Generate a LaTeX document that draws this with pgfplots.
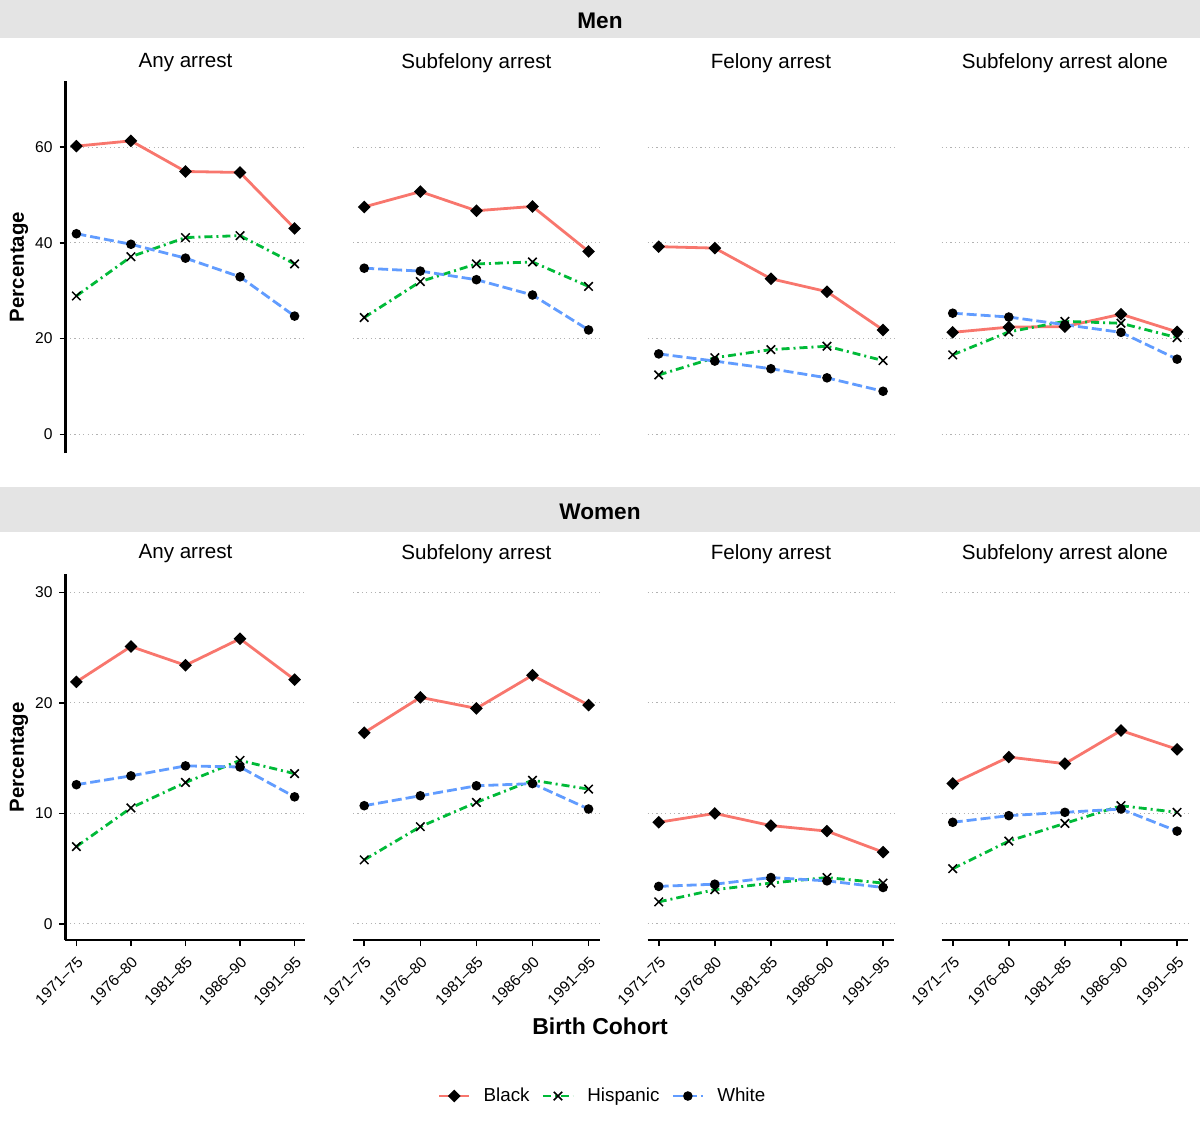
\documentclass[border=0pt]{standalone}
\usepackage{fontspec}
\setmainfont{Liberation Sans}
\usepackage{pgfplots}
\usepackage{pgfplotstable}
\pgfplotsset{compat=1.18}

\definecolor{cB}{HTML}{F8766D}
\definecolor{cH}{HTML}{00BA38}
\definecolor{cW}{HTML}{619CFF}
\definecolor{stripgray}{HTML}{E4E4E4}

% men
\pgfplotstableread{
x B H W
1 60.2 28.9 41.9
2 61.3 37.1 39.7
3 54.9 41.1 36.8
4 54.7 41.5 32.9
5 43.0 35.6 24.7
}\menAny
\pgfplotstableread{
x B H W
1 47.5 24.4 34.7
2 50.7 31.9 34.1
3 46.7 35.6 32.3
4 47.6 36.0 29.1
5 38.2 30.9 21.8
}\menSub
\pgfplotstableread{
x B H W
1 39.2 12.4 16.8
2 38.9 16.0 15.3
3 32.5 17.7 13.7
4 29.8 18.4 11.8
5 21.8 15.4 9.0
}\menFel
\pgfplotstableread{
x B H W
1 21.3 16.6 25.3
2 22.4 21.4 24.5
3 22.5 23.6 22.9
4 25.1 23.2 21.3
5 21.4 20.2 15.7
}\menAlone
% women
\pgfplotstableread{
x B H W
1 21.9 7.0 12.6
2 25.1 10.5 13.4
3 23.4 12.8 14.3
4 25.8 14.8 14.2
5 22.1 13.6 11.5
}\womAny
\pgfplotstableread{
x B H W
1 17.3 5.8 10.7
2 20.5 8.8 11.6
3 19.5 11.0 12.5
4 22.5 13.0 12.7
5 19.8 12.2 10.4
}\womSub
\pgfplotstableread{
x B H W
1 9.2 2.0 3.4
2 10.0 3.1 3.6
3 8.9 3.7 4.2
4 8.4 4.2 3.9
5 6.5 3.7 3.3
}\womFel
\pgfplotstableread{
x B H W
1 12.7 5.0 9.2
2 15.1 7.5 9.8
3 14.5 9.1 10.1
4 17.5 10.7 10.4
5 15.8 10.1 8.4
}\womAlone

\pgfplotsset{
  panel/.style={
    scale only axis,
    xmin=0.8, xmax=5.2, xtick={1,2,3,4,5},
    axis x line*=bottom, axis y line*=left,
    axis line style={-, line width=1.2pt, black},
    ymajorgrids,
    grid style={gray!60, line width=0.5pt, dash pattern=on 0.6pt off 1.6pt},
    major tick length=3pt, tick align=outside,
    tick style={black, line width=0.8pt},
    /pgf/number format/assume math mode=true,
    yticklabel style={font=\fontsize{7.8}{9}\selectfont},
    xticklabel style={font=\fontsize{7.7}{9}\selectfont, rotate=45, anchor=north east},
  },
  toprow/.style={panel, height=186pt, ymin=-3.9, ymax=73.8, ytick={0,20,40,60},
    x axis line style={draw=none}, xtick style={draw=none}, xticklabels={}},
  botrow/.style={panel, height=182.85pt, ymin=-1.45, ymax=31.63, ytick={0,10,20,30},
    xticklabels={1971–75,1976–80,1981–85,1986–90,1991–95}},
  inner/.style={y axis line style={draw=none}, ytick style={draw=none}, yticklabels={}},
  wA/.style={width=120pt},
  wB/.style={width=123.4pt},
  sB/.style={cB, solid, line width=1.4pt, mark=square*, mark size=1.55pt,
    mark options={solid, black, rotate=45}},
  sH/.style={cH, line width=1.4pt, dash pattern=on 4pt off 2pt on 1pt off 2pt,
    mark=x, mark size=3pt, mark options={solid, black, line width=0.75pt}},
  sW/.style={cW, line width=1.4pt, dash pattern=on 5pt off 2pt,
    mark=*, mark size=1.65pt, mark options={solid, black}},
}

\newcommand\threelines[1]{%
  \addplot[sB] table[x=x, y=B] {#1};
  \addplot[sH] table[x=x, y=H] {#1};
  \addplot[sW] table[x=x, y=W] {#1};
}

\begin{document}
\begin{tikzpicture}
\useasboundingbox (0,0) rectangle (600pt,-562.5pt);

% strips
\fill[stripgray] (0,0) rectangle (600pt,-19pt);
\node[font=\bfseries\fontsize{11.3}{12}\selectfont] at (300pt,-10.5pt) {Men};
\fill[stripgray] (0,-243.6pt) rectangle (600pt,-266.2pt);
\node[font=\bfseries\fontsize{11.3}{12}\selectfont] at (300pt,-255.8pt) {Women};

% facet titles
\foreach \cx/\lab in {92.75pt/Any arrest, 238.2pt/Subfelony arrest, 385.45pt/Felony arrest, 532.45pt/Subfelony arrest alone}{
  \node[font=\fontsize{10.3}{12}\selectfont] at (\cx,-31.5pt) {\lab};
  \node[font=\fontsize{10.3}{12}\selectfont] at (\cx,-277pt) {\lab};
}

\node[rotate=90, font=\bfseries\fontsize{10.2}{12}\selectfont] at (9.5pt,-133.5pt) {Percentage};
\node[rotate=90, font=\bfseries\fontsize{10.2}{12}\selectfont] at (9.5pt,-378.75pt) {Percentage};
\node[font=\bfseries\fontsize{11.5}{13}\selectfont] at (300pt,-513pt) {Birth Cohort};

% top row: men
\begin{axis}[toprow, wA, at={(32.75pt,-226.5pt)}, anchor=south west]
\threelines{\menAny}
\end{axis}
\begin{axis}[toprow, wB, inner, at={(176.5pt,-226.5pt)}, anchor=south west]
\threelines{\menSub}
\end{axis}
\begin{axis}[toprow, wB, inner, at={(323.75pt,-226.5pt)}, anchor=south west]
\threelines{\menFel}
\end{axis}
\begin{axis}[toprow, wB, inner, at={(470.75pt,-226.5pt)}, anchor=south west]
\threelines{\menAlone}
\end{axis}

% bottom row: women
\begin{axis}[botrow, wA, at={(32.75pt,-470pt)}, anchor=south west,
  legend columns=3,
  legend style={at={(2.242,-0.4266)}, anchor=center, draw=none,
    font=\fontsize{9.4}{11}\selectfont,
    /tikz/every odd column/.append style={column sep=4.5pt},
    /tikz/every even column/.append style={column sep=4pt}},
  legend image code/.code={\draw[mark repeat=2, mark phase=2, #1]
    plot coordinates {(0pt,0pt) (7.5pt,0pt) (15pt,0pt)};}]
\threelines{\womAny}
\legend{Black, Hispanic, White}
\end{axis}
\begin{axis}[botrow, wB, inner, at={(176.5pt,-470pt)}, anchor=south west]
\threelines{\womSub}
\end{axis}
\begin{axis}[botrow, wB, inner, at={(323.75pt,-470pt)}, anchor=south west]
\threelines{\womFel}
\end{axis}
\begin{axis}[botrow, wB, inner, at={(470.75pt,-470pt)}, anchor=south west]
\threelines{\womAlone}
\end{axis}
\end{tikzpicture}
\end{document}
